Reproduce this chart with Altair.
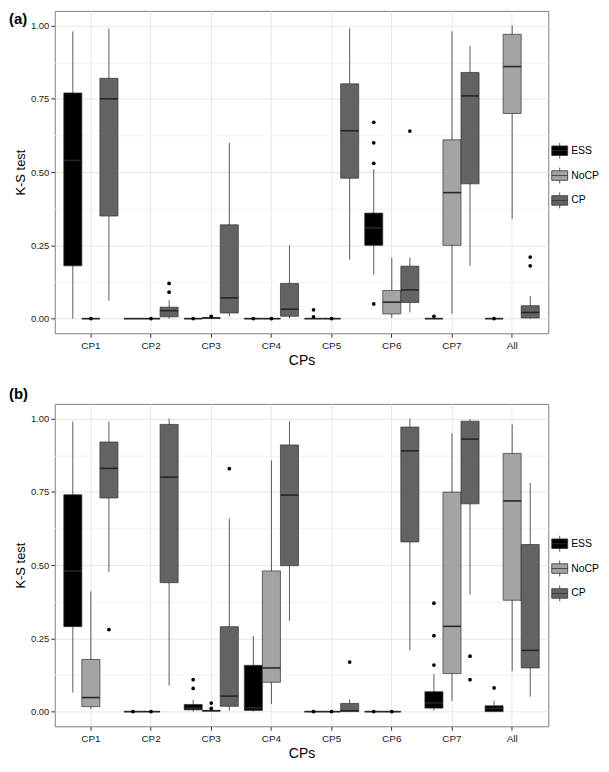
import altair as alt
import pandas as pd

cats = ["CP1", "CP2", "CP3", "CP4", "CP5", "CP6", "CP7", "All"]
groups = ["ESS", "NoCP", "CP"]
colors = ["#000000", "#a4a4a4", "#636363"]

# Panel (a): values in order cat x group (ESS, NoCP, CP)
a_low = [0.00, 0.0, 0.061,  0, 0, 0.0,    0, 0.0, 0.008,  0, 0, 0.002,
         0, 0, 0.201,  0.150, 0.002, 0.021,  0, 0.017, 0.180,  0, 0.340, 0.0]
a_q1 = [0.18, 0.0, 0.35,  0, 0, 0.006,  0, 0.001, 0.019,  0, 0, 0.008,
        0, 0, 0.479,  0.25, 0.016, 0.055,  0, 0.25, 0.46,  0, 0.70, 0.002]
a_med = [0.54, 0.0, 0.75,  0, 0, 0.027,  0, 0.002, 0.071,  0, 0, 0.032,
         0, 0, 0.641,  0.31, 0.056, 0.098,  0, 0.43, 0.76,  0, 0.86, 0.021]
a_q3 = [0.77, 0.0, 0.82,  0, 0, 0.039,  0, 0.003, 0.32,  0, 0, 0.12,
        0, 0, 0.801,  0.36, 0.096, 0.179,  0, 0.61, 0.84,  0, 0.97, 0.044]
a_high = [0.98, 0.0, 0.99,  0, 0, 0.063,  0, 0.004, 0.60,  0, 0, 0.25,
          0, 0, 0.99,  0.51, 0.208, 0.208,  0, 0.98, 0.93,  0, 1.0, 0.077]
a_out_cat = ["CP1", "CP2", "CP2", "CP2", "CP3", "CP3", "CP4", "CP4", "CP5", "CP5", "CP5",
             "CP6", "CP6", "CP6", "CP6", "CP6", "CP7", "All", "All", "All"]
a_out_grp = ["NoCP", "NoCP", "CP", "CP", "ESS", "NoCP", "ESS", "NoCP", "ESS", "ESS", "NoCP",
             "ESS", "ESS", "ESS", "ESS", "CP", "ESS", "ESS", "CP", "CP"]
a_out_val = [0.0, 0.0, 0.09, 0.12, 0.0, 0.008, 0.0, 0.0, 0.006, 0.03, 0.0,
             0.67, 0.60, 0.53, 0.05, 0.64, 0.008, 0.0, 0.18, 0.21]

# Panel (b)
b_low = [0.065, 0.009, 0.477,  0, 0, 0.089,  0, 0.0, 0.003,  0, 0.026, 0.31,
         0, 0, 0.0,  0, 0, 0.209,  0.003, 0.037, 0.399,  0, 0.138, 0.051]
b_q1 = [0.29, 0.017, 0.729,  0, 0, 0.44,  0.006, 0.002, 0.018,  0.004, 0.10, 0.498,
        0, 0, 0.0,  0, 0, 0.579,  0.012, 0.13, 0.709,  0.0, 0.38, 0.149]
b_med = [0.48, 0.048, 0.83,  0, 0, 0.80,  0.012, 0.003, 0.053,  0.013, 0.149, 0.739,
         0, 0, 0.003,  0, 0, 0.89,  0.03, 0.291, 0.93,  0.011, 0.719, 0.209]
b_q3 = [0.74, 0.178, 0.92,  0, 0, 0.98,  0.0245, 0.004, 0.29,  0.158, 0.48, 0.91,
        0, 0, 0.028,  0, 0, 0.971,  0.068, 0.749, 0.991,  0.020, 0.881, 0.57]
b_high = [0.99, 0.41, 0.99,  0, 0, 1.0,  0.04, 0.005, 0.659,  0.258, 0.857, 0.991,
          0, 0, 0.042,  0, 0, 1.0,  0.128, 0.95, 0.998,  0.037, 0.98, 0.78]
b_out_cat = ["CP1", "CP2", "CP2", "CP3", "CP3", "CP3", "CP3", "CP3", "CP5", "CP5", "CP5",
             "CP6", "CP6", "CP7", "CP7", "CP7", "CP7", "CP7", "All"]
b_out_grp = ["CP", "ESS", "NoCP", "ESS", "ESS", "NoCP", "NoCP", "CP", "ESS", "NoCP", "CP",
             "ESS", "NoCP", "ESS", "ESS", "ESS", "CP", "CP", "ESS"]
b_out_val = [0.28, 0.0, 0.0, 0.079, 0.109, 0.011, 0.029, 0.829, 0.0, 0.0, 0.169,
             0.0, 0.0, 0.159, 0.259, 0.37, 0.109, 0.189, 0.081]

FONT = "Liberation Sans"
W, H = 496, 324
minor_test = "(datum.value * 4) % 1 != 0"
key_path = "M-1,-0.6H1V0.6H-1Z M0,-0.6V-1 M0,0.6V1 M-1,0H1"


def panel(low, q1, med, q3, high, ocat, ogrp, oval, tags):
    rows = []
    for i, c in enumerate(cats):
        for j, g in enumerate(groups):
            k = i * 3 + j
            rows.append(dict(cat=c, grp=g, lo=low[k], q1=q1[k], med=med[k],
                             q3=q3[k], hi=high[k]))
    df = pd.DataFrame(rows)
    odf = pd.DataFrame(dict(cat=ocat, grp=ogrp, v=oval))

    xenc = alt.X("cat:N", sort=cats,
                 scale=alt.Scale(domain=cats, paddingInner=0, paddingOuter=0.1),
                 axis=alt.Axis(title="CPs", labelAngle=0, grid=True, bandPosition=0.5,
                               gridColor="#e6e6e6", domain=False, tickSize=4,
                               tickColor="#333333", labelFontSize=10, labelColor="#222222",
                               labelFont=FONT, titleFont=FONT, titleFontSize=14,
                               titleFontWeight="normal", titleColor="black",
                               labelPadding=3, titlePadding=3))
    xoff = alt.XOffset("grp:N", sort=groups,
                       scale=alt.Scale(domain=groups, paddingInner=0, paddingOuter=1 / 6))
    yaxis = alt.Axis(title="K-S test",
                     values=[0, 0.125, 0.25, 0.375, 0.5, 0.625, 0.75, 0.875, 1.0],
                     labelExpr="(datum.value * 4) % 1 == 0 ? format(datum.value, '.2f') : ''",
                     gridColor={"condition": {"test": minor_test, "value": "#f3f3f3"},
                                "value": "#e6e6e6"},
                     tickColor={"condition": {"test": minor_test, "value": "transparent"},
                                "value": "#333333"},
                     domain=False, tickSize=4, labelFontSize=9.5, labelColor="#222222",
                     labelFont=FONT, titleFont=FONT, titleFontSize=13,
                     titleFontWeight="normal", titleColor="black", labelPadding=2,
                     titlePadding=3)
    yscale = alt.Scale(domain=[-0.05, 1.05], nice=False, zero=False)

    def Y(f):
        return alt.Y(f, scale=yscale, axis=yaxis)

    base = alt.Chart(df).encode(x=xenc, xOffset=xoff)
    whisk = base.mark_rule(color="#333333", strokeWidth=0.8).encode(y=Y("lo:Q"), y2="hi:Q")
    box = base.mark_bar(stroke="#333333", strokeWidth=0.7, opacity=1).encode(
        y=Y("q1:Q"), y2="q3:Q",
        color=alt.Color("grp:N", sort=groups,
                        scale=alt.Scale(domain=groups, range=colors),
                        legend=alt.Legend(title=None, orient="none", legendX=W + 3,
                                          legendY=int(H * 0.41),
                                          symbolType=key_path, symbolSize=256,
                                          symbolStrokeColor="#333333",
                                          symbolStrokeWidth=0.8, symbolOpacity=1,
                                          labelFont=FONT, labelFontSize=10.5,
                                          labelColor="black", rowPadding=4,
                                          labelOffset=3)))
    medl = base.mark_tick(orient="horizontal", size=18, thickness=1.6,
                          color="#262626", opacity=1).encode(y=Y("med:Q"))
    pts = alt.Chart(odf).mark_circle(size=14, color="black", opacity=1).encode(
        x=xenc, xOffset=xoff, y=Y("v:Q"))
    layers = [whisk, box, medl, pts]
    for t, ty in tags:
        layers.append(alt.Chart(pd.DataFrame({"t": [t]})).mark_text(
            font=FONT, fontSize=15, fontWeight="bold", align="left", baseline="middle",
            color="black").encode(text="t:N", x=alt.value(-46), y=alt.value(ty)))
    return alt.layer(*layers).properties(width=W, height=H)


pa = panel(a_low, a_q1, a_med, a_q3, a_high, a_out_cat, a_out_grp, a_out_val,
           [("(a)", 8), ("(b)", H + 61)])
pb = panel(b_low, b_q1, b_med, b_q3, b_high, b_out_cat, b_out_grp, b_out_val, [])

chart = alt.vconcat(pa, pb, spacing=0).resolve_scale(color="independent").resolve_legend(
    color="independent").properties(padding=0).configure_view(
    stroke="#7f7f7f", strokeWidth=1)

chart.save("out.html", embed_options={"renderer": "svg", "actions": False})
